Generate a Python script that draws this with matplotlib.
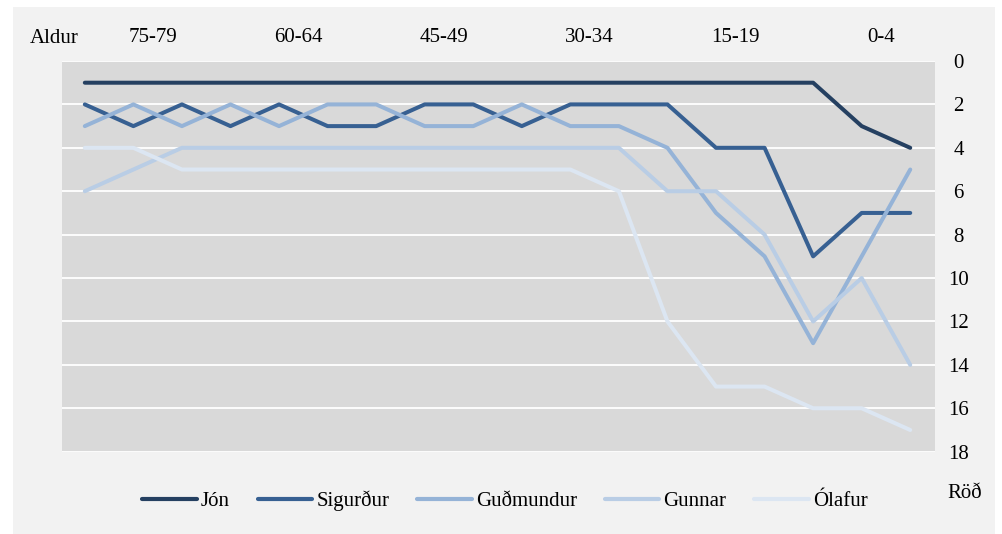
import matplotlib.pyplot as plt
from matplotlib.patches import Rectangle

plt.rcParams['font.family'] = ['Liberation Serif', 'DejaVu Serif']

# aldurshópar, elsti fyrst
aldur = ['85+', '80-84', '75-79', '70-74', '65-69', '60-64', '55-59', '50-54', '45-49',
         '40-44', '35-39', '30-34', '25-29', '20-24', '15-19', '10-14', '5-9', '0-4']

# röð nafnsins í hverjum aldurshópi
jon = [1, 1, 1, 1, 1, 1, 1, 1, 1, 1, 1, 1, 1, 1, 1, 1, 3, 4]
sigurdur = [2, 3, 2, 3, 2, 3, 3, 2, 2, 3, 2, 2, 2, 4, 4, 9, 7, 7]
gudmundur = [3, 2, 3, 2, 3, 2, 2, 3, 3, 2, 3, 3, 4, 7, 9, 13, 9, 5]
gunnar = [6, 5, 4, 4, 4, 4, 4, 4, 4, 4, 4, 4, 6, 6, 8, 12, 10, 14]
olafur = [4, 4, 5, 5, 5, 5, 5, 5, 5, 5, 5, 6, 12, 15, 15, 16, 16, 17]

nofn = ['Jón', 'Sigurður', 'Guðmundur', 'Gunnar', 'Ólafur']
litir = ['#254061', '#376092', '#95B3D7', '#B9CDE5', '#DCE6F2']
gogn = [jon, sigurdur, gudmundur, gunnar, olafur]

W, H = 1002, 534
fig = plt.figure(figsize=(W / 100, H / 100), dpi=100)
fig.patch.set_facecolor('white')
fig.add_artist(Rectangle((13 / W, 0), (995 - 13) / W, (534 - 7) / H,
                         transform=fig.transFigure, facecolor='#F2F2F2',
                         edgecolor='none', zorder=-5))

ax = fig.add_axes([62 / W, 1 - 451.7 / H, (935 - 62) / W, (451.7 - 61) / H])
ax.set_zorder(2)
ax.set_facecolor('#D9D9D9')

x = list(range(len(aldur)))
for nafn, litur, y in zip(nofn, litir, gogn):
    ax.plot(x, y, color=litur, lw=2.9, label=nafn, solid_joinstyle='round',
            solid_capstyle='round', zorder=3)

ax.set_xlim(-0.47, 17.51)
ax.set_ylim(18, 0)
ax.set_yticks(range(0, 19, 2))
ax.yaxis.tick_right()
ax.tick_params(axis='y', length=0, pad=17, labelsize=15)
for t in ax.get_yticklabels():
    t.set_horizontalalignment('center')
ax.grid(axis='y', color='white', lw=1.3, zorder=1)
ax.set_axisbelow(True)

# merki efst, þriðji hver aldurshópur
merki = list(range(2, len(aldur), 3))
ax.xaxis.tick_top()
ax.set_xticks([i - 0.6 for i in merki])
ax.set_xticklabels([aldur[i] for i in merki])
ax.tick_params(axis='x', length=0, pad=10, labelsize=15)

for s in ax.spines.values():
    s.set_visible(False)

fig.text(30 / W, 1 - 43 / H, 'Aldur', fontsize=15, va='baseline', ha='left')
fig.text(947 / W, 1 - 498 / H, 'Röð', fontsize=15, va='baseline', ha='left')

leg = fig.legend(loc='center', bbox_to_anchor=(505 / W, 1 - 501 / H), ncol=5,
                 frameon=False, fontsize=15, handlelength=2.6, handletextpad=0.2,
                 columnspacing=1.35)
for h in leg.get_lines():
    h.set_linewidth(3)
    h.set_solid_capstyle('round')

fig.savefig('out.png', dpi=100, facecolor=fig.get_facecolor())
